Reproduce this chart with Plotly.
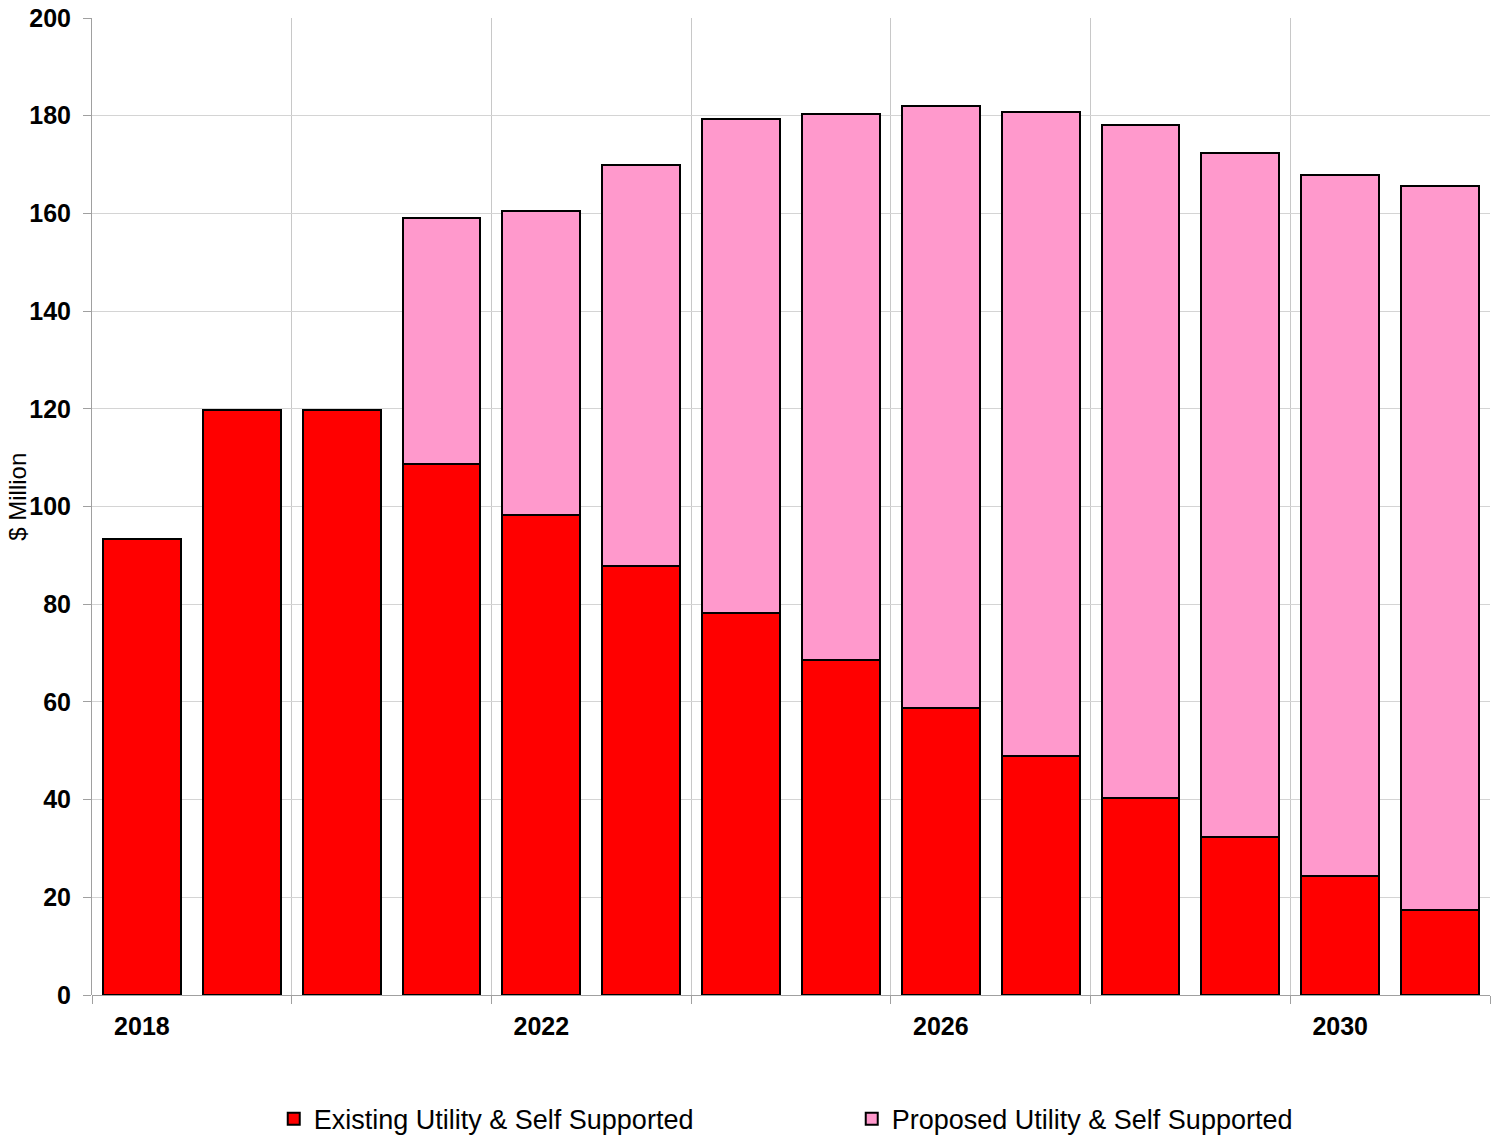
import plotly.graph_objects as go

years = [2018, 2019, 2020, 2021, 2022, 2023, 2024, 2025, 2026, 2027, 2028, 2029, 2030, 2031]
existing = [93.4, 119.8, 119.8, 108.8, 98.3, 87.9, 78.2, 68.6, 58.8, 49.0, 40.4, 32.3, 24.4, 17.3]
totals = [93.4, 119.8, 119.8, 159.1, 160.4, 169.9, 179.3, 180.3, 182.0, 180.7, 178.0, 172.3, 167.9, 165.6]
proposed = [round(t - e, 1) for t, e in zip(totals, existing)]
tick_years = [2018, 2022, 2026, 2030]
grid_positions = [2017.5, 2019.5, 2021.5, 2023.5, 2025.5, 2027.5, 2029.5, 2031.5]

font_family = "Liberation Sans, Arial, sans-serif"

fig = go.Figure()
fig.add_trace(go.Bar(
    x=years, y=existing, name="Existing Utility & Self Supported",
    marker=dict(color="#FF0000", line=dict(color="#000000", width=2)),
    width=0.78,
))
fig.add_trace(go.Bar(
    x=years, y=proposed, name="Proposed Utility & Self Supported",
    marker=dict(color="#FF99CC", line=dict(color="#000000", width=2)),
    width=0.78,
))

fig.update_layout(
    barmode="stack",
    width=1498, height=1137,
    margin=dict(l=92, r=8, t=18, b=142, autoexpand=False),
    plot_bgcolor="white", paper_bgcolor="white",
    font=dict(family=font_family, color="#000000"),
    showlegend=True,
    legend=dict(
        orientation="h", x=0.130, xanchor="left", y=-0.127, yanchor="middle",
        font=dict(size=27, family=font_family), entrywidth=533, traceorder="normal",
    ),
)

fig.update_xaxes(
    range=[2017.5, 2031.5],
    automargin=False,
    tickmode="array", tickvals=tick_years, ticktext=[str(y) for y in tick_years],
    showgrid=False, zeroline=False,
    showline=False,
    tickfont=dict(size=25, family=font_family, weight="bold"),
    ticks="", ticklen=0, ticklabelstandoff=14,
    minor=dict(tickmode="array", tickvals=grid_positions, showgrid=True,
               gridcolor="#c8c8c8", gridwidth=1, ticks="outside", ticklen=8, tickcolor="#a0a0a0"),
)
fig.update_yaxes(
    range=[0, 200], dtick=20,
    automargin=False, ticklabeloverflow="allow",
    showgrid=True, gridcolor="#d4d4d4", gridwidth=1,
    zeroline=True, zerolinecolor="#a0a0a0", zerolinewidth=1,
    showline=True, linecolor="#a0a0a0", linewidth=1,
    ticks="outside", ticklen=8, tickcolor="#a0a0a0", ticklabelstandoff=7,
    tickfont=dict(size=25, family=font_family, weight="bold"),
)

fig.add_annotation(
    text="$ Million", textangle=-90, showarrow=False,
    xref="paper", yref="paper", x=0, y=0.51, xanchor="center", yanchor="middle",
    xshift=-74, font=dict(size=24, family=font_family, color="#000000"),
)

# remove the browser's default 8px body margin so the figure fills the window
fig.write_html("out.html", config={"displayModeBar": False},
               post_script="document.body.style.margin='0px';")
